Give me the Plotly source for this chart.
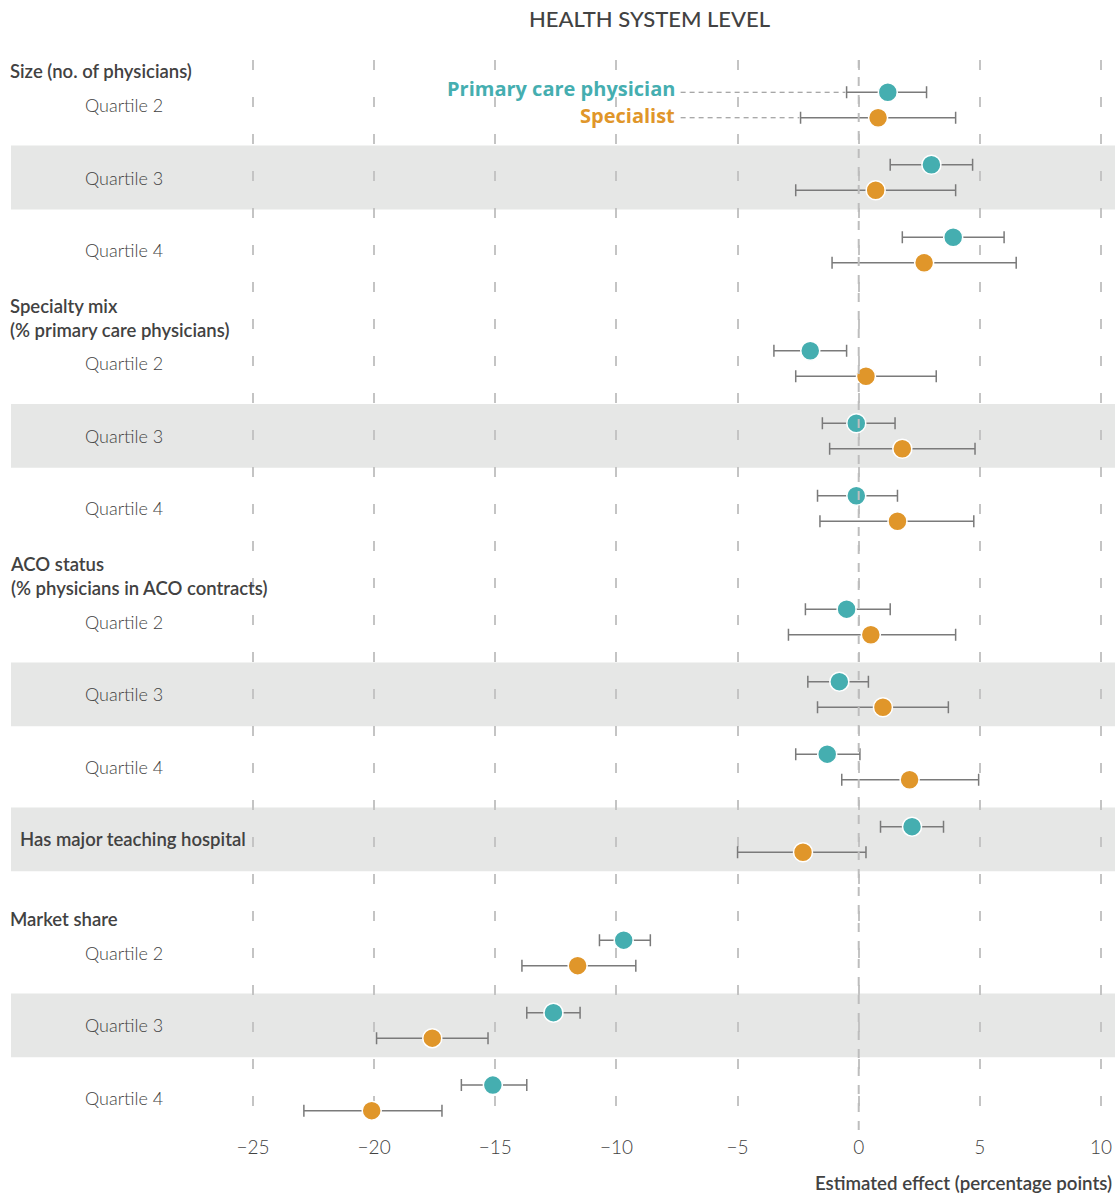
import plotly.graph_objects as go

# ---------------- data ----------------
groups = ["Size (no. of physicians)", "Specialty mix<br>(% primary care physicians)",
          "ACO status<br>(% physicians in ACO contracts)", None, "Market share"]
row_labels = ["Quartile 2", "Quartile 3", "Quartile 4",
              "Quartile 2", "Quartile 3", "Quartile 4",
              "Quartile 2", "Quartile 3", "Quartile 4",
              "Has major teaching hospital",
              "Quartile 2", "Quartile 3", "Quartile 4"]
row_group = [0, 0, 0, 1, 1, 1, 2, 2, 2, 3, 4, 4, 4]
shaded = [False, True, False, False, True, False, False, True, False, True, False, True, False]

pcp_est = [1.2, 3.0, 3.9, -2.0, -0.1, -0.1, -0.5, -0.8, -1.3, 2.2, -9.7, -12.6, -15.1]
pcp_lo = [-0.5, 1.3, 1.8, -3.5, -1.5, -1.7, -2.2, -2.1, -2.6, 0.9, -10.7, -13.7, -16.4]
pcp_hi = [2.8, 4.7, 6.0, -0.5, 1.5, 1.6, 1.3, 0.4, 0.05, 3.5, -8.6, -11.5, -13.7]

spec_est = [0.8, 0.7, 2.7, 0.3, 1.8, 1.6, 0.5, 1.0, 2.1, -2.3, -11.6, -17.6, -20.1]
spec_lo = [-2.4, -2.6, -1.1, -2.6, -1.2, -1.6, -2.9, -1.7, -0.7, -5.0, -13.9, -19.9, -22.9]
spec_hi = [4.0, 4.0, 6.5, 3.2, 4.8, 4.75, 4.0, 3.7, 4.95, 0.3, -9.2, -15.3, -17.2]

x_ticks = [-25, -20, -15, -10, -5, 0, 5, 10]

TEAL = "#45aeb0"
ORANGE = "#e0962a"
TXT = "#424242"
FONT = "Lato"
LEG_FONT = "Open Sans"

# ---------------- row positions ----------------
GAP = 0.565
pos = []
p = 0.0
prev = None
for g in row_group:
    if prev is not None:
        if g != prev and groups[g] is not None:
            p += 1 + GAP
        else:
            p += 1
    pos.append(p)
    prev = g

OFF = 0.176
y_pcp = [v - OFF for v in pos]
y_spec = [v + OFF for v in pos]

fig = go.Figure()

# shaded bands
for v, s in zip(pos, shaded):
    if s:
        fig.add_shape(type="rect", xref="paper", yref="y", x0=11/1116, x1=1115/1116,
                      y0=v - 0.44, y1=v + 0.44, fillcolor="#e6e7e6", line_width=0, layer="below")

err_style = dict(type="data", symmetric=False, color="#7a7a7a", thickness=1.5, width=6)

fig.add_trace(go.Scatter(
    x=spec_est, y=y_spec, mode="markers", name="Specialist",
    error_x=dict(array=[h - e for h, e in zip(spec_hi, spec_est)],
                 arrayminus=[e - l for l, e in zip(spec_lo, spec_est)], **err_style),
    marker=dict(size=19, color=ORANGE, line=dict(color="white", width=1.5)),
    showlegend=False))
fig.add_trace(go.Scatter(
    x=pcp_est, y=y_pcp, mode="markers", name="Primary care physician",
    error_x=dict(array=[h - e for h, e in zip(pcp_hi, pcp_est)],
                 arrayminus=[e - l for l, e in zip(pcp_lo, pcp_est)], **err_style),
    marker=dict(size=19, color=TEAL, line=dict(color="white", width=1.5)),
    showlegend=False))

# zero line (dashed, darker)
fig.add_shape(type="line", xref="x", yref="paper", x0=0, x1=0, y0=0, y1=1,
              line=dict(color="#bdbdbd", width=2, dash="9px,9px"), layer="above")

# legend labels with dashed connectors
label_x = -7.55
fig.add_annotation(x=label_x, y=y_pcp[0] - 0.058, xref="x", yref="y",
                   text="Primary care physician", borderpad=0,
                   showarrow=False, xanchor="right", yanchor="middle",
                   font=dict(family=LEG_FONT, size=20, color=TEAL, weight=700))
fig.add_annotation(x=label_x, y=y_spec[0] - 0.025, xref="x", yref="y", text="Specialist",
                   borderpad=0, showarrow=False, xanchor="right", yanchor="middle",
                   font=dict(family=LEG_FONT, size=20, color=ORANGE, weight=700))
fig.add_shape(type="line", xref="x", yref="y", x0=label_x + 0.2, x1=pcp_lo[0] - 0.05,
              y0=y_pcp[0], y1=y_pcp[0], line=dict(color="#8a8a8a", width=1, dash="5px,4px"))
fig.add_shape(type="line", xref="x", yref="y", x0=label_x + 0.2, x1=spec_lo[0] - 0.05,
              y0=y_spec[0], y1=y_spec[0], line=dict(color="#8a8a8a", width=1, dash="5px,4px"))

# group headers
first_in_group = {}
for i, g in enumerate(row_group):
    first_in_group.setdefault(g, i)
for g, name in enumerate(groups):
    if name is None:
        continue
    n = name.count("<br>") + 1
    yv = pos[first_in_group[g]] - (0.47 if n == 1 else 0.63)
    fig.add_annotation(x=8/1116, y=yv, xref="paper", yref="y", text=name, showarrow=False,
                       xanchor="left", yanchor="middle", align="left",
                       font=dict(family=FONT, size=18.5, color=TXT, weight=600))

# row labels
for lab, v, g in zip(row_labels, pos, row_group):
    if groups[g] is None:
        fig.add_annotation(x=18/1116, y=v, xref="paper", yref="y", text=lab, showarrow=False,
                           xanchor="left", yanchor="middle",
                           font=dict(family=FONT, size=18.5, color=TXT, weight=600))
    else:
        fig.add_annotation(x=83/1116, y=v, xref="paper", yref="y", text=lab, showarrow=False,
                           xanchor="left", yanchor="middle",
                           font=dict(family=FONT, size=18, color=TXT, weight=300))

# title & axis title
fig.add_annotation(x=649/1116, y=1 + (60 - 19) / 1070, xref="paper", yref="paper",
                   yanchor="middle", text="HEALTH SYSTEM LEVEL", showarrow=False,
                   font=dict(family=FONT, size=22, color=TXT, weight=500))

fig.add_annotation(x=1114/1116, y=-(1183 - 1130) / 1070, xref="paper", yref="paper",
                   xanchor="right", yanchor="middle",
                   text="Estimated effect (percentage points)", showarrow=False,
                   font=dict(family=FONT, size=18.7, color=TXT, weight=600))

px_per_unit = 24.23
fig.update_layout(
    width=1116, height=1196,
    margin=dict(l=0, r=0, t=60, b=66),
    plot_bgcolor="white", paper_bgcolor="white",
    showlegend=False,
    xaxis=dict(range=[-25 - 253 / px_per_unit, 10 + 15 / px_per_unit],
               tickvals=x_ticks,
               showgrid=True, gridcolor="#c4c4c4", gridwidth=2, griddash="10px,27px",
               zeroline=False, showline=False, ticks="", layer="above traces",
               ticklabelstandoff=4,
               tickfont=dict(family=FONT, size=19, color=TXT, weight=300),
               fixedrange=True),
    yaxis=dict(range=[14.138, -0.621], showgrid=False, zeroline=False, showticklabels=False,
               showline=False, ticks=""),
)

fig.write_html("out.html")
